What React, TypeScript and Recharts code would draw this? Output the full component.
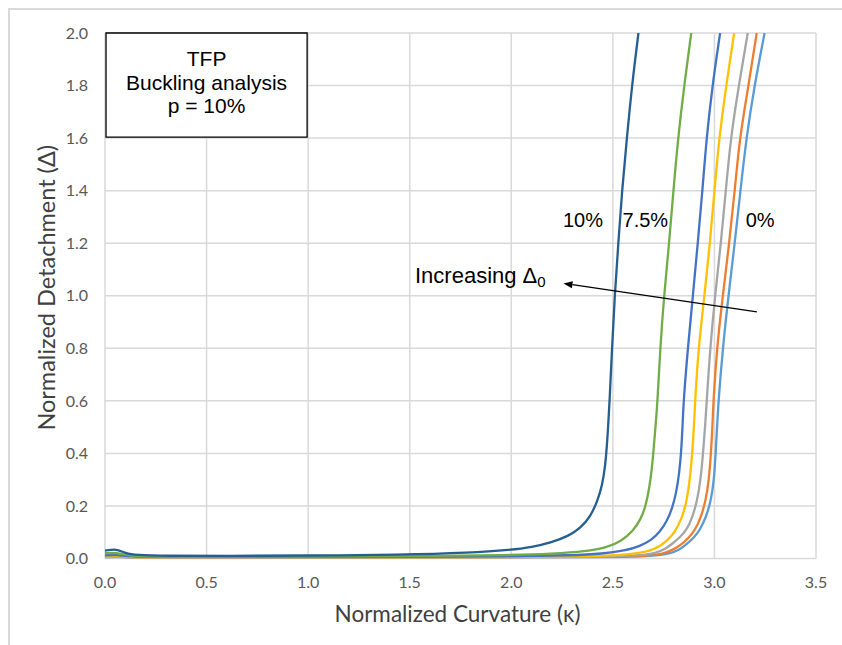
import {
  LineChart,
  Line,
  XAxis,
  YAxis,
  CartesianGrid,
  ReferenceArea,
  ReferenceDot,
  ReferenceLine,
} from 'recharts';

// [κ, Δ] points, one array per initial detachment
const curve0: number[][] = [
  [0, 0.004], [0.06, 0.006], [0.12, 0.003], [0.3, 0.002], [2.0, 0.003], [2.5, 0.005],
  [2.7, 0.01], [2.78, 0.018], [2.83, 0.035], [2.857, 0.05], [2.9, 0.08], [2.93, 0.11],
  [2.96, 0.16], [2.983, 0.22], [2.998, 0.3], [3.006, 0.4], [3.013, 0.5], [3.02, 0.6],
  [3.041, 0.8], [3.069, 1.0], [3.1, 1.2], [3.128, 1.4], [3.157, 1.6], [3.197, 1.8],
  [3.247, 2.0],
];
const curve1: number[][] = [
  [0, 0.005], [0.06, 0.007], [0.12, 0.003], [0.3, 0.003], [2.0, 0.003], [2.5, 0.006],
  [2.68, 0.011], [2.75, 0.018], [2.8, 0.035], [2.833, 0.05], [2.875, 0.08], [2.906, 0.11],
  [2.935, 0.16], [2.957, 0.22], [2.973, 0.3], [2.983, 0.4], [2.99, 0.5], [2.995, 0.6],
  [3.012, 0.8], [3.041, 1.0], [3.073, 1.2], [3.1, 1.4], [3.124, 1.6], [3.168, 1.8],
  [3.208, 2.0],
];
const curve2: number[][] = [
  [0, 0.006], [0.06, 0.008], [0.12, 0.004], [0.3, 0.003], [2.0, 0.004], [2.5, 0.007],
  [2.64, 0.012], [2.71, 0.02], [2.76, 0.037], [2.79, 0.055], [2.83, 0.08], [2.865, 0.11],
  [2.893, 0.16], [2.915, 0.22], [2.932, 0.3], [2.944, 0.4], [2.954, 0.5], [2.962, 0.6],
  [2.979, 0.8], [3.003, 1.0], [3.032, 1.2], [3.056, 1.4], [3.08, 1.6], [3.12, 1.8],
  [3.164, 2.0],
];
const curve3: number[][] = [
  [0, 0.008], [0.06, 0.01], [0.12, 0.005], [0.3, 0.004], [1.5, 0.004], [2.0, 0.005],
  [2.4, 0.008], [2.6, 0.016], [2.68, 0.028], [2.73, 0.045], [2.77, 0.07], [2.805, 0.1],
  [2.838, 0.15], [2.862, 0.21], [2.879, 0.3], [2.891, 0.4], [2.899, 0.5], [2.905, 0.6],
  [2.921, 0.8], [2.951, 1.0], [2.978, 1.2], [3.0, 1.4], [3.023, 1.6], [3.058, 1.8],
  [3.097, 2.0],
];
const curve5: number[][] = [
  [0, 0.012], [0.06, 0.014], [0.12, 0.007], [0.3, 0.005], [1.0, 0.005], [1.5, 0.006],
  [2.0, 0.008], [2.3, 0.012], [2.45, 0.018], [2.56, 0.03], [2.63, 0.046], [2.69, 0.07],
  [2.73, 0.1], [2.765, 0.14], [2.792, 0.19], [2.812, 0.25], [2.826, 0.32], [2.836, 0.4],
  [2.843, 0.5], [2.848, 0.6], [2.869, 0.8], [2.894, 1.0], [2.918, 1.2], [2.941, 1.4],
  [2.961, 1.6], [2.99, 1.8], [3.028, 2.0],
];
const curve75: number[][] = [
  [0, 0.02], [0.06, 0.022], [0.1, 0.014], [0.15, 0.008], [0.3, 0.006], [1.0, 0.007],
  [1.5, 0.009], [2.0, 0.013], [2.2, 0.018], [2.37, 0.027], [2.47, 0.042], [2.54, 0.065],
  [2.6, 0.105], [2.638, 0.15], [2.662, 0.2], [2.68, 0.27], [2.692, 0.34], [2.701, 0.42],
  [2.71, 0.5], [2.72, 0.6], [2.733, 0.8], [2.752, 1.0], [2.777, 1.2], [2.798, 1.4],
  [2.821, 1.6], [2.851, 1.8], [2.886, 2.0],
];
const curve10: number[][] = [
  [0, 0.03], [0.03, 0.033], [0.06, 0.035], [0.1, 0.02], [0.15, 0.013], [0.3, 0.01],
  [0.6, 0.01], [1.0, 0.011], [1.45, 0.014], [1.8, 0.022], [2.0, 0.033], [2.1, 0.043],
  [2.2, 0.062], [2.28, 0.085], [2.34, 0.115], [2.39, 0.16], [2.425, 0.22], [2.448, 0.28],
  [2.462, 0.35], [2.471, 0.43], [2.478, 0.52], [2.484, 0.6], [2.496, 0.8], [2.509, 1.0],
  [2.527, 1.2], [2.545, 1.4], [2.569, 1.6], [2.594, 1.8], [2.626, 2.0],
];

const seriesNames = ['0%', '1%', '2%', '3%', '5%', '7.5%', '10%'];
const seriesColors = ['#5B9BD5', '#ED7D31', '#A5A5A5', '#FFC000', '#4472C4', '#70AD47', '#255E91'];
const seriesPoints = [curve0, curve1, curve2, curve3, curve5, curve75, curve10];

const xTicks = [0, 0.5, 1, 1.5, 2, 2.5, 3, 3.5];
const yTicks = [0, 0.2, 0.4, 0.6, 0.8, 1.0, 1.2, 1.4, 1.6, 1.8, 2.0];

const boxLines = ['TFP', 'Buckling analysis', 'p = 10%'];
const curveLabels = [
  { text: '10%', k: 2.353, d: 1.29 },
  { text: '7.5%', k: 2.66, d: 1.29 },
  { text: '0%', k: 3.225, d: 1.29 },
];

const tickStyle = { fontFamily: 'Lato', fontSize: 16, fill: '#595959' };
const noteFont = '"Liberation Sans", Arial, sans-serif';

// eslint-disable-next-line @typescript-eslint/no-explicit-any
const Arrow = (props: any) => {
  const { x1, y1, x2, y2 } = props;
  const ang = Math.atan2(y2 - y1, x2 - x1);
  const len = 9;
  const half = 3.5;
  const bx = x2 - len * Math.cos(ang);
  const by = y2 - len * Math.sin(ang);
  const px = -Math.sin(ang) * half;
  const py = Math.cos(ang) * half;
  return (
    <g>
      <line x1={x1} y1={y1} x2={bx} y2={by} stroke="#000" strokeWidth={1.3} />
      <polygon points={`${x2},${y2} ${bx + px},${by + py} ${bx - px},${by - py}`} fill="#000" />
    </g>
  );
};

export default function App() {
  return (
    <div style={{ position: 'absolute', left: 0, top: 0, width: 842, height: 645, background: '#fff' }}>
      <div
        style={{
          position: 'absolute',
          left: 8,
          top: 8,
          width: 834,
          height: 637,
          borderTop: '2px solid #d9d9d9',
          borderLeft: '2px solid #d9d9d9',
          boxSizing: 'border-box',
        }}
      />
      <LineChart
        width={842}
        height={645}
        margin={{ top: 33, right: 26, bottom: 20, left: 20 }}
        style={{ position: 'absolute', left: 0, top: 0 }}
      >
        <CartesianGrid stroke="#d9d9d9" strokeWidth={1.5} />
        <XAxis
          dataKey="k"
          type="number"
          domain={[0, 3.5]}
          ticks={xTicks}
          tickFormatter={(v) => v.toFixed(1)}
          axisLine={false}
          tickLine={false}
          tickSize={0}
          tickMargin={18}
          height={66.5}
          tick={tickStyle}
          allowDataOverflow
          label={{
            content: ({ viewBox }: any) => (
              <text
                x={viewBox.x + viewBox.width / 2 - 3}
                y={613}
                textAnchor="middle"
                dominantBaseline="central"
                fontFamily="Lato"
                fontSize={22.5}
                fill="#404040"
              >
                Normalized Curvature (κ)
              </text>
            ),
          }}
        />
        <YAxis
          dataKey="d"
          type="number"
          domain={[0, 2]}
          ticks={yTicks}
          tickFormatter={(v) => v.toFixed(1)}
          axisLine={false}
          tickLine={false}
          tickSize={0}
          tickMargin={17}
          width={85}
          tick={tickStyle}
          allowDataOverflow
          label={{
            content: ({ viewBox }: any) => {
              const cx = 46;
              const cy = viewBox.y + viewBox.height / 2 - 8;
              return (
                <text
                  x={cx}
                  y={cy}
                  transform={`rotate(-90 ${cx} ${cy})`}
                  textAnchor="middle"
                  dominantBaseline="central"
                  fontFamily="Lato"
                  fontSize={23.5}
                  fill="#404040"
                >
                  Normalized Detachment (Δ)
                </text>
              );
            },
          }}
        />
        {seriesPoints.map((pts, i) => (
          <Line
            key={seriesNames[i]}
            name={seriesNames[i]}
            data={pts.map(([k, d]) => ({ k, d }))}
            dataKey="d"
            type="basis"
            stroke={seriesColors[i]}
            strokeWidth={2.3}
            dot={false}
            activeDot={false}
            isAnimationActive={false}
          />
        ))}
        <ReferenceArea
          x1={0.005}
          x2={0.995}
          y1={1.604}
          y2={2.0}
          fill="#fff"
          fillOpacity={1}
          stroke="#000"
          strokeWidth={1.3}
        />
        <ReferenceDot
          x={0.5}
          y={2.0}
          r={0}
          shape={(p: any) => (
            <text
              x={p.cx}
              textAnchor="middle"
              fontFamily={noteFont}
              fontSize={21}
              fill="#000"
            >
              {boxLines.map((t, i) => (
                <tspan key={t} x={p.cx} y={p.cy + 33 + i * 23.5}>
                  {t}
                </tspan>
              ))}
            </text>
          )}
        />
        {curveLabels.map((l) => (
          <ReferenceDot
            key={l.text}
            x={l.k}
            y={l.d}
            r={0}
            shape={(p: any) => (
              <text
                x={p.cx}
                y={p.cy}
                textAnchor="middle"
                dominantBaseline="central"
                fontFamily={noteFont}
                fontSize={20}
                fill="#000"
              >
                {l.text}
              </text>
            )}
          />
        ))}
        <ReferenceDot
          x={1.526}
          y={1.047}
          r={0}
          shape={(p: any) => (
            <text x={p.cx} y={p.cy} fontFamily={noteFont} fontSize={22} fill="#000">
              Increasing Δ
              <tspan fontSize={15} dy={4}>
                0
              </tspan>
            </text>
          )}
        />
        <ReferenceLine
          segment={[
            { x: 3.209, y: 0.939 },
            { x: 2.257, y: 1.047 },
          ]}
          shape={Arrow}
        />
      </LineChart>
    </div>
  );
}
